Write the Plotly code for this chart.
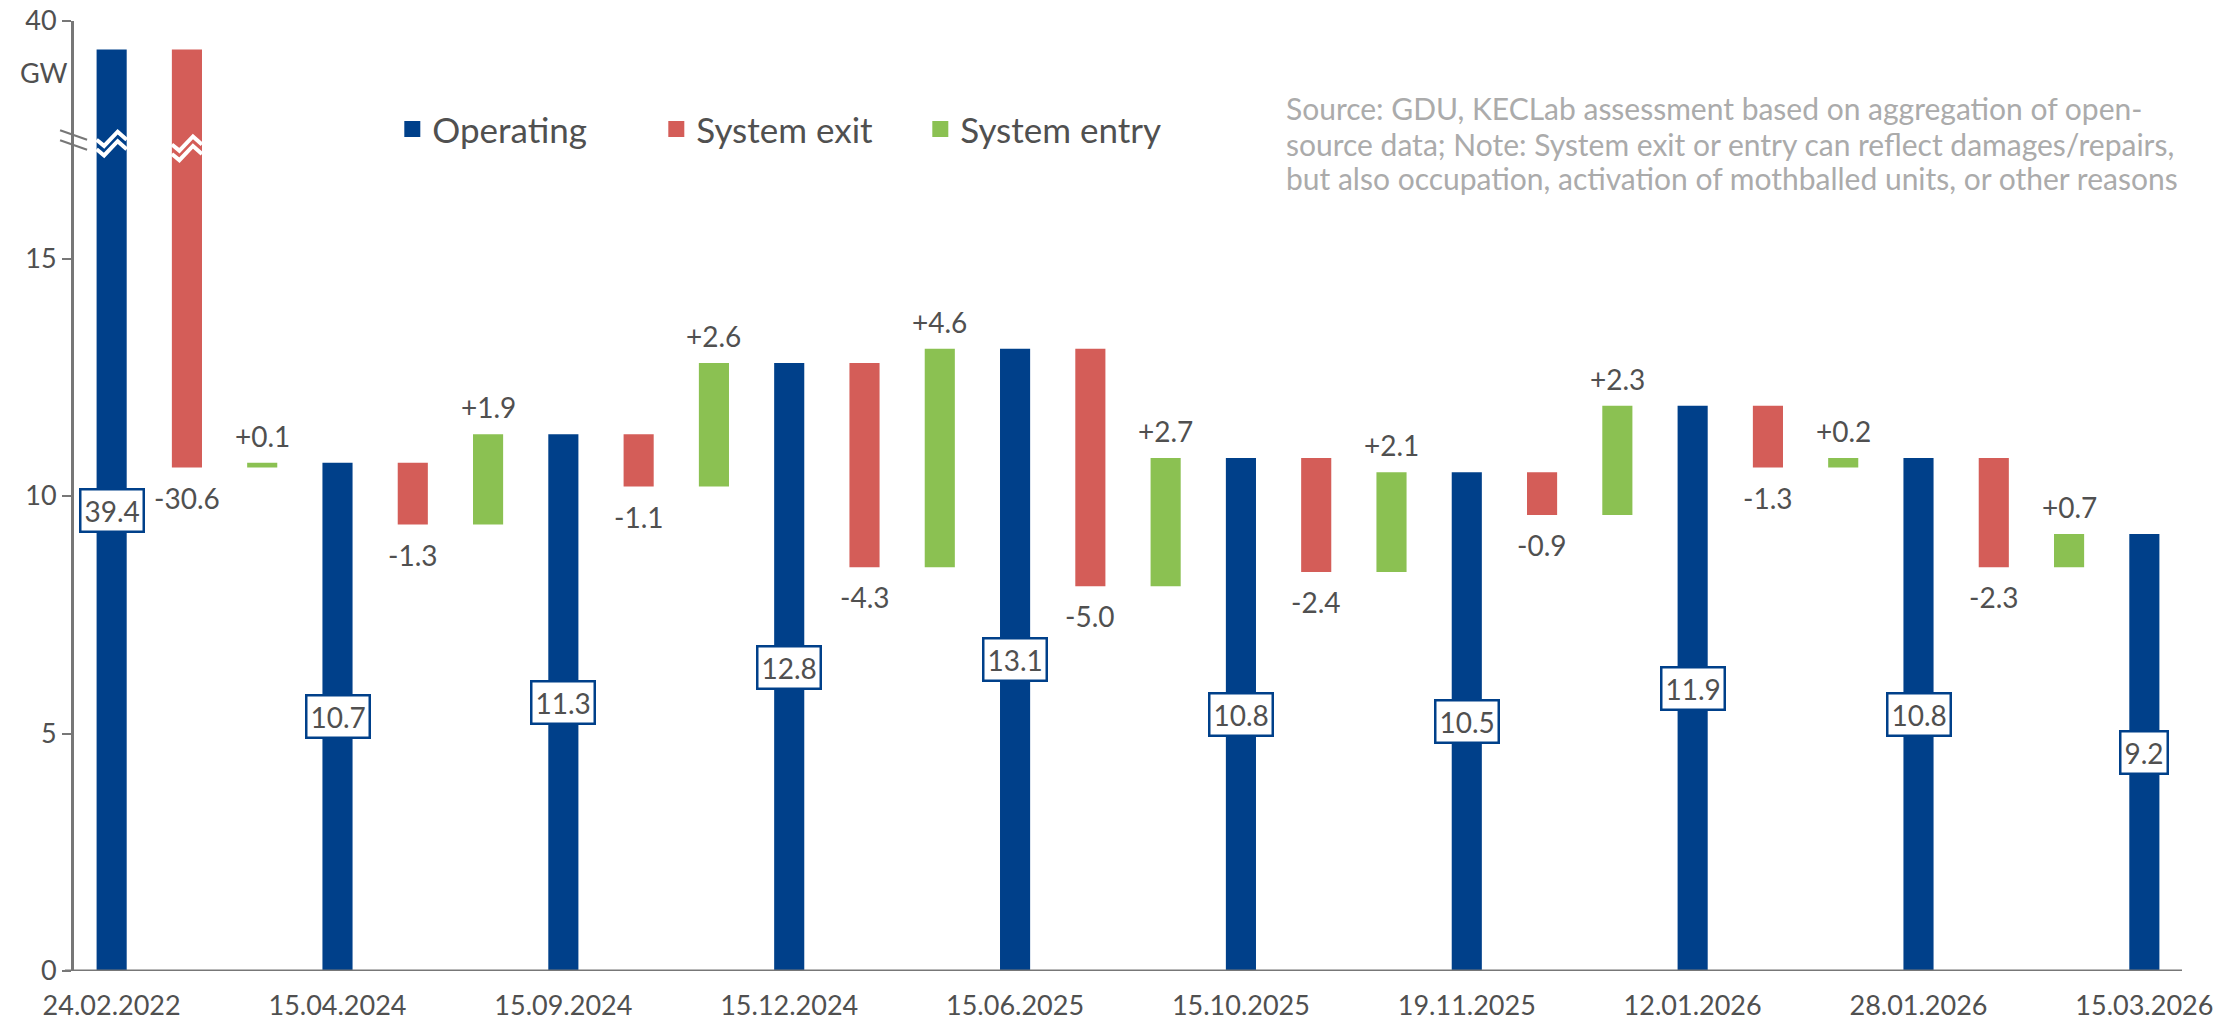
import plotly.graph_objects as go

# Operating capacity at each date, GW
dates = ['24.02.2022', '15.04.2024', '15.09.2024', '15.12.2024', '15.06.2025',
         '15.10.2025', '19.11.2025', '12.01.2026', '28.01.2026', '15.03.2026']
operating = [39.4, 10.7, 11.3, 12.8, 13.1, 10.8, 10.5, 11.9, 10.8, 9.2]
# changes between consecutive dates
system_exit = [-30.6, -1.3, -1.1, -4.3, -5.0, -2.4, -0.9, -1.3, -2.3]
system_entry = [0.1, 1.9, 2.6, 4.6, 2.7, 2.1, 2.3, 0.2, 0.7]

y_ticks = [0, 5, 10, 15, 40]

source_lines = [
    'Source: GDU, KECLab assessment based on aggregation of open-',
    'source data; Note: System exit or entry can reflect damages/repairs,',
    'but also occupation, activation of mothballed units, or other reasons',
]

BLUE = '#00408a'
RED = '#d45d58'
GREEN = '#8bc152'
TXT = '#505050'
AXIS = '#777777'
FONT = 'Lato'

# broken y axis: values between BREAK_LO and BREAK_HI are cut out
BREAK_LO, BREAK_HI = 17.5, 37.5


def disp(v):
    return v if v <= BREAK_LO else v - (BREAK_HI - BREAK_LO)


n = len(operating)
op_x = [3 * i for i in range(n)]
ex_x = [3 * i + 1 for i in range(n - 1)]
en_x = [3 * i + 2 for i in range(n - 1)]

# exit bar runs from previous operating level down to (next level - entry)
ex_top = operating[:-1]
ex_bot = [operating[i + 1] - system_entry[i] for i in range(n - 1)]
en_bot = ex_bot
en_top = operating[1:]

fig = go.Figure()

fig.add_trace(go.Bar(
    x=op_x, y=[disp(v) for v in operating], base=0, width=0.4,
    marker=dict(color=BLUE, line=dict(width=0)), showlegend=False, hoverinfo='skip'))
fig.add_trace(go.Bar(
    x=ex_x, y=[disp(t) - disp(b) for t, b in zip(ex_top, ex_bot)],
    base=[disp(b) for b in ex_bot], width=0.4,
    marker=dict(color=RED, line=dict(width=0)), showlegend=False, hoverinfo='skip'))
fig.add_trace(go.Bar(
    x=en_x, y=[disp(t) - disp(b) for t, b in zip(en_top, en_bot)],
    base=[disp(b) for b in en_bot], width=0.4,
    marker=dict(color=GREEN, line=dict(width=0)), showlegend=False, hoverinfo='skip'))

# legend entries
for name, col in [('Operating', BLUE), ('System exit', RED), ('System entry', GREEN)]:
    fig.add_trace(go.Scatter(x=[None], y=[None], mode='markers', name=name,
                             marker=dict(symbol='square', size=16, color=col)))

# value labels
LBL = 28
for x, v in zip(op_x, operating):
    fig.add_annotation(x=x, y=disp(v) / 2, text=f'{v:.1f}', showarrow=False,
                       font=dict(size=LBL, color=TXT, family=FONT),
                       bgcolor='white', bordercolor=BLUE, borderwidth=2.5, borderpad=3)
for x, b, v in zip(ex_x, ex_bot, system_exit):
    fig.add_annotation(x=x, y=disp(b), yshift=-30, text=f'{v:.1f}', showarrow=False,
                       font=dict(size=LBL, color=TXT, family=FONT))
for x, t, v in zip(en_x, en_top, system_entry):
    fig.add_annotation(x=x, y=disp(t), yshift=27, text=f'+{v:.1f}', showarrow=False,
                       font=dict(size=LBL, color=TXT, family=FONT))

# white zigzags on bars that cross the break
shapes = []
for x, mid in [(op_x[0], BREAK_LO - 0.1), (ex_x[0], BREAK_LO - 0.2)]:
    for off in (0.1, -0.1):
        y0 = mid + off
        pts = [(x - 0.2, y0), (x - 0.1, y0 - 0.13), (x + 0.08, y0 + 0.17), (x + 0.2, y0)]
        path = 'M ' + ' L '.join(f'{px},{py}' for px, py in pts)
        shapes.append(dict(type='path', path=path, xref='x', yref='y',
                           line=dict(color='white', width=4)))
# break marks on the y axis
for dy in (0.0, 0.0105):
    shapes.append(dict(type='line', xref='paper', yref='paper',
                       x0=-0.0066, x1=0.0062, y0=0.885 - dy, y1=0.875 - dy,
                       line=dict(color=AXIS, width=2)))
# x axis baseline
shapes.append(dict(type='line', xref='paper', yref='y', x0=-0.0043, x1=1, y0=0, y1=0,
                   line=dict(color=AXIS, width=3)))
fig.update_layout(shapes=shapes)

fig.add_annotation(xref='paper', yref='paper', x=-0.0142, y=0.946, text='GW',
                   xanchor='center', yanchor='middle',
                   showarrow=False, font=dict(size=27, color=TXT, family=FONT))
for line, yy in zip(source_lines, [0.908, 0.871, 0.835]):
    fig.add_annotation(xref='paper', yref='paper', x=0.574, y=yy, xanchor='left',
                       yanchor='middle', text=line, showarrow=False,
                       font=dict(size=30, color='#ababab', family=FONT))

fig.update_layout(
    width=2236, height=1028,
    margin=dict(l=74, r=54, t=21, b=57, autoexpand=False),
    plot_bgcolor='white', paper_bgcolor='white',
    font=dict(family=FONT, color=TXT, size=27),
    barmode='overlay',
    legend=dict(orientation='h', x=0.151, y=0.886, xanchor='left', yanchor='middle',
                font=dict(size=35, color=TXT, family=FONT),
                entrywidth=219, bgcolor='rgba(0,0,0,0)'),
    xaxis=dict(range=[-0.5, 27.5], tickvals=op_x, ticktext=dates, showgrid=False,
               zeroline=False, showline=False, ticks='', ticklabelstandoff=16,
               automargin=False, tickfont=dict(size=27)),
    yaxis=dict(range=[0, disp(40)], tickvals=[disp(v) for v in y_ticks],
               ticktext=[str(v) for v in y_ticks], showgrid=False, zeroline=False,
               showline=True, linecolor=AXIS, linewidth=3, ticks='outside', ticklen=9,
               tickwidth=2, tickcolor=AXIS, automargin=False, tickfont=dict(size=27)),
)

fig.write_html('out.html', config={'displayModeBar': False},
               post_script="document.body.style.margin='0';")
